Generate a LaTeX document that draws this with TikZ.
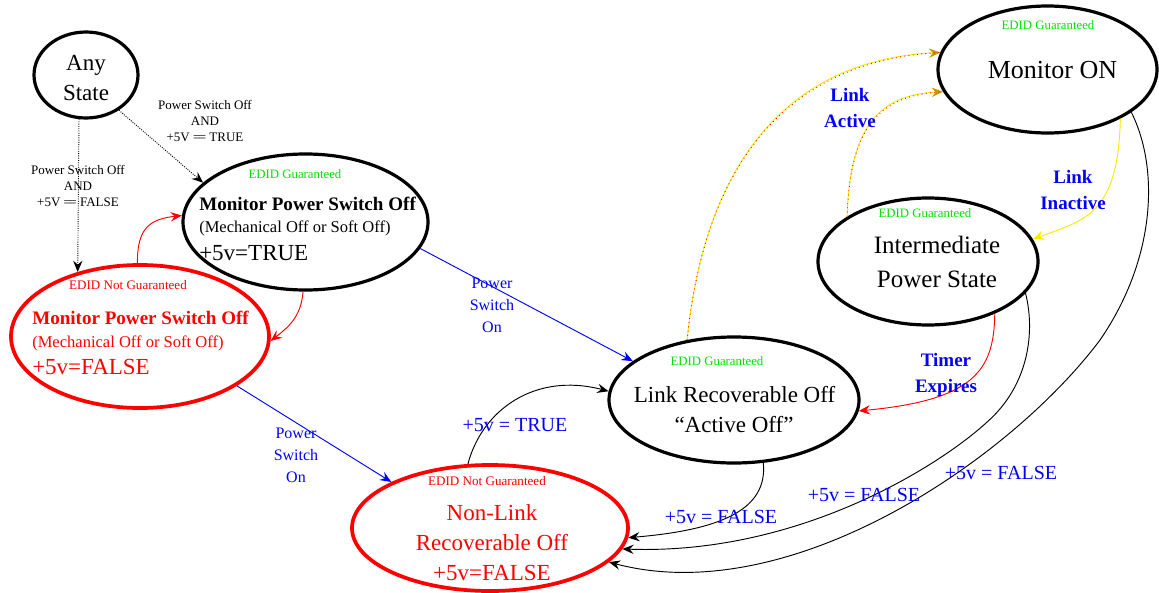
\documentclass[tikz,border=0pt]{standalone}
\usepackage{fontspec}
\setmainfont{Liberation Serif}
\usetikzlibrary{shapes.geometric,arrows.meta}
\definecolor{edidgreen}{RGB}{0,225,0}
\definecolor{pblue}{RGB}{0,0,255}
\definecolor{pred}{RGB}{255,0,0}
\definecolor{pyellow}{RGB}{250,235,0}
\definecolor{tipolive}{RGB}{200,150,0}
\newcommand\myfs[2]{\fontsize{#1pt}{#2pt}\selectfont}
\begin{document}
\begin{tikzpicture}[x=0.75pt,y=-0.75pt,
  stateblack/.style={ellipse,draw=black,line width=2.4pt,inner sep=0pt},
  statered/.style={ellipse,draw=pred,line width=2.8pt,inner sep=0pt},
  edid/.style={inner sep=0pt,text=edidgreen,font=\myfs{9.6}{11}},
  edidnot/.style={inner sep=0pt,text=pred,font=\myfs{9.8}{11}},
  bigtxt/.style={inner sep=0pt,anchor=base,font=\myfs{17.25}{20}},
  conn/.style={line width=0.7pt,-{Stealth[length=8.5pt,width=7pt,inset=3pt]}},
  mix/.style={draw=pyellow,-{Stealth[length=8.5pt,width=7pt,inset=3pt,color=tipolive]},
    postaction={draw=pred,-,dash pattern=on 0.6pt off 2.6pt}},
  smalllbl/.style={inner sep=0pt,align=center,font=\myfs{9.75}{12}},
  bluelbl/.style={inner sep=0pt,align=center,text=pblue,font=\myfs{12}{16.5}},
  boldlbl/.style={inner sep=0pt,align=center,text=pblue,font=\bfseries\myfs{14.25}{19}},
  vlbl/.style={inner sep=0pt,text=pblue,font=\myfs{15}{18}}
]
\useasboundingbox (0,0) rectangle (1159,592);

% states
\node[stateblack,minimum width=78pt,minimum height=64.5pt] (any) at (86,75) {};
\node[stateblack,minimum width=183.75pt,minimum height=102pt] (mpso) at (305.5,222) {};
\node[statered,minimum width=193.5pt,minimum height=107.25pt] (mpsor) at (140,336.5) {};
\node[statered,minimum width=207pt,minimum height=94.5pt] (nl) at (490,528) {};
\node[stateblack,minimum width=187.5pt,minimum height=94.5pt] (lr) at (734,400) {};
\node[stateblack,minimum width=165pt,minimum height=95.25pt] (ips) at (928,261.5) {};
\node[stateblack,minimum width=164.25pt,minimum height=95.25pt] (mon) at (1047.5,69.5) {};

% state texts
\node[bigtxt] (anyA) at (86,70) {Any};
\node[bigtxt] (anyB) at (86,100) {State};

\node[edid] (mpsoE) at (295,174) {EDID Guaranteed};
\node[inner sep=0pt,anchor=base west,font=\bfseries\myfs{14.3}{16}] (mpsoA) at (199,210) {Monitor Power Switch Off};
\node[inner sep=0pt,anchor=base west,font=\myfs{12.4}{14}] (mpsoB) at (199,232) {(Mechanical Off or Soft Off)};
\node[inner sep=0pt,anchor=base west,font=\myfs{17.25}{20}] (mpsoC) at (199,260) {+5v=TRUE};

\node[edidnot] (mpsorE) at (128,285) {EDID Not Guaranteed};
\node[inner sep=0pt,anchor=base west,text=pred,font=\bfseries\myfs{14.3}{16}] (mpsorA) at (32,324) {Monitor Power Switch Off};
\node[inner sep=0pt,anchor=base west,text=pred,font=\myfs{12.4}{14}] (mpsorB) at (32,347) {(Mechanical Off or Soft Off)};
\node[inner sep=0pt,anchor=base west,text=pred,font=\myfs{17.25}{20}] (mpsorC) at (32,374) {+5v=FALSE};

\node[edidnot] (nlE) at (487,481) {EDID Not Guaranteed};
\node[bigtxt,text=pred] (nlA) at (492,520) {Non-Link};
\node[bigtxt,text=pred] (nlB) at (492,550) {Recoverable Off};
\node[bigtxt,text=pred] (nlC) at (492,580) {+5v=FALSE};

\node[edid] (lrE) at (717,361) {EDID Guaranteed};
\node[bigtxt] (lrA) at (734.5,402) {Link Recoverable Off};
\node[bigtxt] (lrB) at (734,432) {“Active Off”};

\node[edid] (ipsE) at (925,213) {EDID Guaranteed};
\node[bigtxt,font=\myfs{18.75}{22}] (ipsA) at (937,253) {Intermediate};
\node[bigtxt,font=\myfs{18.75}{22}] (ipsB) at (937,287) {Power State};

\node[edid] (monE) at (1048,25) {EDID Guaranteed};
\node[bigtxt,font=\myfs{19.5}{22}] (monA) at (1052.5,79) {Monitor ON};

% connectors
\draw[conn,densely dotted] (any.-47) -- (mpso.159);
\draw[conn,densely dotted] (any.-99) -- (mpsor.134);
\draw[conn,pred] (mpsor.92) .. controls (137,228) and (150,219) .. (mpso.177);
\draw[conn,pred] (mpso.-92) .. controls (301,318) and (287,328) .. (mpsor.-2);
\draw[conn,pblue] (mpso.-13) -- (lr.159);
\draw[conn,pblue] (mpsor.-27) -- (nl.155);
\draw[conn] (nl.109) .. controls (482,410) and (535,372) .. (lr.176);
\draw[conn,mix] (lr.128) .. controls (705,160) and (790,60) .. (mon.171);
\draw[conn,mix] (ips.151) .. controls (850,125) and (880,95) .. (mon.192);
\draw[conn,pyellow] (mon.-34) .. controls (1118,215) and (1085,220) .. (ips.12);
\draw[conn,pred] (ips.-38) .. controls (994,370) and (975,400) .. (lr.-5);
\draw[conn] (lr.-65) .. controls (768,510) and (720,530) .. (nl.-4);
\draw[conn] (ips.-18) .. controls (1035,330) and (1030,385) .. (986,423)
  .. controls (940,465) and (800,555) .. (nl.-9);
\draw[conn] (mon.-27) .. controls (1160,170) and (1155,260) .. (1100,340)
  .. controls (1010,460) and (790,610) .. (nl.-16);

% connector labels
\node[smalllbl] (l1) at (205,121) {Power Switch Off\\AND\\+5V =\kern-0.12em= TRUE};
\node[smalllbl] (l2) at (78,186) {Power Switch Off\\AND\\+5V =\kern-0.12em= FALSE};
\node[bluelbl] (l3) at (492,305) {Power\\Switch\\On};
\node[bluelbl] (l4) at (296,455) {Power\\Switch\\On};
\node[vlbl] (l5) at (515,425) {+5v = TRUE};
\node[boldlbl] (l6) at (850,108) {Link\\Active};
\node[boldlbl] (l7) at (1073,190) {Link\\Inactive};
\node[boldlbl] (l8) at (946,375) {Timer\\Expires};
\node[vlbl] (l9) at (721,517) {+5v = FALSE};
\node[vlbl] (l10) at (864,495) {+5v = FALSE};
\node[vlbl] (l11) at (1001,473) {+5v = FALSE};
\end{tikzpicture}
\end{document}
